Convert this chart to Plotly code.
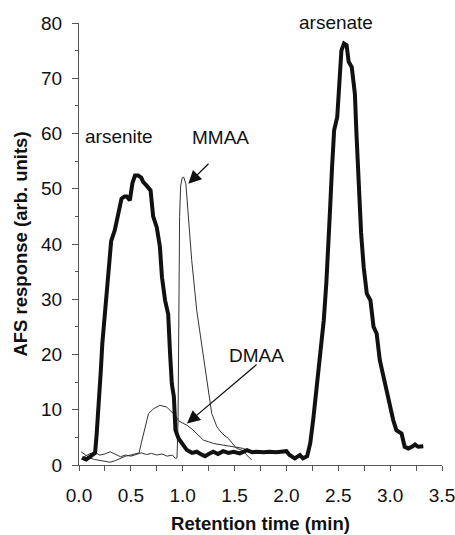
import plotly.graph_objects as go

# Thick trace: arsenite + arsenate chromatogram
mix_x = [0.03, 0.07, 0.12, 0.155, 0.17, 0.19, 0.21, 0.225, 0.245, 0.265, 0.28, 0.29, 0.31, 0.345,
         0.38, 0.41, 0.44, 0.46, 0.49, 0.515, 0.54, 0.57, 0.6, 0.62, 0.65, 0.69, 0.715, 0.75, 0.78,
         0.80, 0.83, 0.86, 0.878, 0.895, 0.915, 0.93, 0.96, 1.0, 1.04, 1.09, 1.135, 1.18, 1.215,
         1.25, 1.295, 1.34, 1.39, 1.44, 1.49, 1.55, 1.62, 1.67, 1.71, 1.78, 1.84, 1.9, 1.97, 2.0,
         2.03, 2.08, 2.13, 2.16, 2.2, 2.23, 2.26, 2.29, 2.31, 2.34, 2.36, 2.385, 2.40, 2.42, 2.44,
         2.46, 2.49, 2.51, 2.53, 2.555, 2.58, 2.6, 2.63, 2.645, 2.66, 2.675, 2.69, 2.72, 2.745,
         2.775, 2.81, 2.84, 2.87, 2.90, 2.93, 2.97, 3.0, 3.03, 3.06, 3.11, 3.14, 3.175, 3.21, 3.24,
         3.27, 3.32]
mix_y = [1.3, 1.0, 1.7, 2.2, 5.5, 10.5, 17, 22, 26.5, 30, 34, 37, 40.5, 42.5,
         45.5, 48.2, 48.6, 48.6, 47.9, 51, 52.4, 52.4, 52, 51.2, 50.6, 49.7, 45, 43, 39.5,
         34, 29.8, 27.3, 20.2, 14.7, 12.3, 6.3, 4.8, 3.6, 2.7, 2.2, 2.4, 1.9, 1.6,
         2.0, 2.4, 2.0, 2.5, 2.2, 2.4, 2.1, 2.7, 2.3, 2.4, 2.3, 2.4, 2.3, 2.4, 2.5,
         1.8, 1.2, 1.8, 1.2, 1.6, 4.0, 8.5, 14, 17.5, 22, 26.2, 33, 40, 46, 53.9,
         60.6, 63, 70.8, 75, 76.3, 76, 73, 72, 69.6, 67.2, 60, 52.7, 42, 35.8,
         31, 29.8, 25, 23.8, 19, 16.5, 12.9, 10.5, 8.1, 6.3, 5.7, 3.3, 3.0, 3.3, 3.7,
         3.3, 3.4]

# Thin trace: MMAA
mmaa_x = [0.02, 0.05, 0.1, 0.15, 0.2, 0.25, 0.3, 0.35, 0.4, 0.45, 0.5, 0.55, 0.6, 0.65, 0.7,
          0.75, 0.8, 0.85, 0.9, 0.93, 0.945, 0.955, 0.96, 0.965, 0.97, 0.98, 0.995, 1.01, 1.03,
          1.05, 1.087, 1.135, 1.18, 1.23, 1.26, 1.28, 1.33, 1.38, 1.44, 1.49, 1.52, 1.57, 1.62, 1.665]
mmaa_y = [1.0, 1.5, 2.0, 2.3, 1.8, 2.0, 2.4, 2.0, 1.5, 1.8, 1.6, 1.9, 2.2, 1.9, 2.1,
          1.8, 2.0, 1.6, 1.8, 1.2, 1.3, 8, 20, 35, 45, 50.5, 52, 52.1, 50.9,
          46.1, 37, 28, 22, 15.9, 11.7, 9.3, 6.9, 5.7, 4.8, 3.6, 3.0, 2.7, 1.8, 0.9]

# Thin trace: DMAA
dmaa_x = [0.02, 0.06, 0.1, 0.15, 0.2, 0.25, 0.3, 0.35, 0.4, 0.45, 0.5, 0.55, 0.58, 0.6, 0.62,
          0.635, 0.67, 0.72, 0.78, 0.845, 0.88, 0.926, 0.96, 1.006, 1.04, 1.09, 1.135, 1.2, 1.25,
          1.295, 1.39, 1.49, 1.585, 1.62]
dmaa_y = [2.4, 1.8, 1.3, 1.0, 0.8, 0.6, 0.5, 0.8, 1.2, 1.6, 1.8, 2.0, 2.2, 3.9, 5.5,
          6.9, 9.3, 10.2, 10.8, 10.5, 9.9, 9.0, 8.0, 7.5, 7.2, 6.5, 5.7, 4.5, 4.2,
          3.9, 3.6, 3.3, 3.0, 2.7]

x_ticks = [0.0, 0.5, 1.0, 1.5, 2.0, 2.5, 3.0, 3.5]
y_ticks = [0, 10, 20, 30, 40, 50, 60, 70, 80]

labels = ["arsenite", "MMAA", "arsenate", "DMAA"]
label_x = [0.386, 1.364, 2.477, 1.713]
label_y = [59.5, 59.3, 79.99, 19.9]

arrow_tail_x = [1.263, 1.726]
arrow_tail_y = [54.8, 18.4]
arrow_tip_x = [1.054, 1.041]
arrow_tip_y = [50.9, 7.5]

FONT = "Liberation Sans, Arial, sans-serif"

fig = go.Figure()
fig.add_trace(go.Scatter(x=dmaa_x, y=dmaa_y, mode="lines",
                         line=dict(color="#333333", width=1), name="DMAA"))
fig.add_trace(go.Scatter(x=mmaa_x, y=mmaa_y, mode="lines",
                         line=dict(color="#333333", width=1), name="MMAA"))
fig.add_trace(go.Scatter(x=mix_x, y=mix_y, mode="lines",
                         line=dict(color="#111111", width=4), name="arsenite/arsenate"))

annotations = []
for t, lx, ly in zip(labels, label_x, label_y):
    annotations.append(dict(x=lx, y=ly, xref="x", yref="y", text=t, showarrow=False,
                            font=dict(family=FONT, size=19, color="#111111"),
                            xanchor="center", yanchor="middle",
                            yshift=1 if t == "arsenate" else 0))
for tx, ty, hx, hy in zip(arrow_tail_x, arrow_tail_y, arrow_tip_x, arrow_tip_y):
    annotations.append(dict(x=hx, y=hy, ax=tx, ay=ty, xref="x", yref="y", axref="x", ayref="y",
                            text="", showarrow=True, arrowhead=2, arrowsize=2.0,
                            arrowwidth=1.3, arrowcolor="#111111"))

fig.update_layout(
    width=455, height=535,
    margin=dict(l=79, r=13, t=23, b=70),
    paper_bgcolor="white", plot_bgcolor="white",
    showlegend=False,
    annotations=annotations,
    font=dict(family=FONT, size=19, color="#111111"),
)
fig.update_xaxes(
    range=[0, 3.5], tickvals=x_ticks, ticktext=[f"{v:.1f}" for v in x_ticks],
    automargin=False, ticklabeloverflow="allow",
    showline=True, linecolor="#555555", linewidth=1, mirror=False,
    ticks="outside", ticklen=5, tickcolor="#555555", ticklabelstandoff=8,
    minor=dict(dtick=0.25, tick0=0, ticks="outside", ticklen=5, tickcolor="#555555"),
    showgrid=False, zeroline=False,
    tickfont=dict(family=FONT, size=19, color="#111111"),
    title=dict(text="<b>Retention time (min)</b>", font=dict(family=FONT, size=18.5, color="#111111"),
               standoff=12),
)
fig.update_yaxes(
    range=[0, 80], tickvals=y_ticks,
    automargin=False, ticklabeloverflow="allow",
    showline=True, linecolor="#555555", linewidth=1,
    ticks="outside", ticklen=6, tickcolor="#555555", ticklabelstandoff=6,
    minor=dict(dtick=5, tick0=0, ticks="outside", ticklen=3, tickcolor="#555555"),
    showgrid=False, zeroline=False,
    tickfont=dict(family=FONT, size=19, color="#111111"),
    title=dict(text="<b>AFS response (arb. units)</b>", font=dict(family=FONT, size=18.5, color="#111111"),
               standoff=8),
)

# remove the page's default body margin so the 455x535 figure fills the window exactly
fig.write_html("out.html",
               config={"displayModeBar": False, "staticPlot": True},
               post_script="document.body.style.margin='0';"
                           "document.documentElement.style.overflow='hidden';")
